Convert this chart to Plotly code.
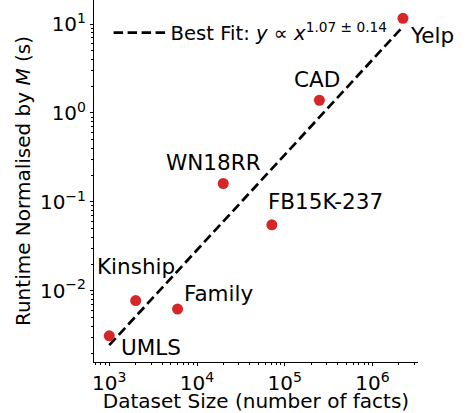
import numpy as np
import plotly.graph_objects as go

# ---- data ----
datasets = ["UMLS", "Kinship", "Family", "WN18RR", "FB15K-237", "CAD", "Yelp"]
dataset_size = [1000, 2000, 6000, 19900, 71200, 248000, 2220000]
runtime_norm = [0.00312, 0.00778, 0.00623, 0.161, 0.0552, 1.39, 11.6]

fit_slope = 1.07
fit_slope_err = 0.14
fit_log_intercept = -5.82

x_tick_vals = [1e3, 1e4, 1e5, 1e6]
x_tick_text = ["10<sup>3</sup>", "10<sup>4</sup>", "10<sup>5</sup>", "10<sup>6</sup>"]
y_tick_vals = [1e-2, 1e-1, 1e0, 1e1]
y_tick_text = ["10<sup>−2</sup>", "10<sup>−1</sup>", "10<sup>0</sup>", "10<sup>1</sup>"]

# label offsets (px) and anchors
label_pos = {
    "UMLS": (10, -12, "left"),
    "Kinship": (0, 34, "center"),
    "Family": (4, 16, "left"),
    "WN18RR": (-10, 21, "center"),
    "FB15K-237": (-6, 23, "left"),
    "CAD": (-2, 21, "center"),
    "Yelp": (5, -17, "left"),
}

FONT = "DejaVu Sans"
RED = "#d62728"

fit_x = np.array([min(dataset_size), max(dataset_size)], dtype=float)
fit_y = 10 ** (fit_log_intercept + fit_slope * np.log10(fit_x))

fig = go.Figure()
fig.add_trace(go.Scatter(
    x=fit_x, y=fit_y, mode="lines",
    line=dict(color="black", width=2.7, dash="9.5px,4.5px"),
    name=f"Best Fit: <i>y</i> ∝ <i>x</i><sup>{fit_slope:.2f} ± {fit_slope_err:.2f}</sup>",
    showlegend=True,
))
fig.add_trace(go.Scatter(
    x=dataset_size, y=runtime_norm, mode="markers",
    marker=dict(color=RED, size=11),
    showlegend=False,
))

for name, xv, yv in zip(datasets, dataset_size, runtime_norm):
    dx, dy, anchor = label_pos[name]
    fig.add_annotation(
        x=np.log10(xv), y=np.log10(yv), xref="x", yref="y",
        text=name, showarrow=False,
        xanchor=anchor, yanchor="middle",
        xshift=dx, yshift=dy,
        font=dict(family=FONT, size=21.5, color="black"),
    )

minor_x = [k * 10 ** e for e in range(2, 7) for k in range(2, 10)]
minor_y = [k * 10 ** e for e in range(-3, 2) for k in range(2, 10)]

fig.update_layout(
    width=468, height=413,
    margin=dict(l=94, r=50, t=0, b=51, autoexpand=False),
    paper_bgcolor="white", plot_bgcolor="white",
    font=dict(family=FONT, size=20, color="black"),
    showlegend=True,
    legend=dict(
        x=0.045, y=0.963, xanchor="left", yanchor="top",
        bgcolor="rgba(0,0,0,0)", borderwidth=0, itemwidth=52,
        font=dict(family=FONT, size=19.6, color="black"),
    ),
    xaxis=dict(
        type="log", range=[2.826, 6.518],
        showline=True, linecolor="black", linewidth=1,
        ticks="outside", ticklen=3, tickwidth=1, tickcolor="black",
        tickmode="array", tickvals=x_tick_vals, ticktext=x_tick_text,
        minor=dict(ticks="outside", ticklen=2, tickcolor="black", tickvals=minor_x, showgrid=False),
        showgrid=False, zeroline=False,
        tickfont=dict(family=FONT, size=20),
        title=dict(text="Dataset Size (number of facts)", font=dict(family=FONT, size=20), standoff=5),
    ),
    yaxis=dict(
        type="log", range=[-2.80, 1.27],
        showline=True, linecolor="black", linewidth=1,
        ticks="outside", ticklen=3, tickwidth=1, tickcolor="black",
        tickmode="array", tickvals=y_tick_vals, ticktext=y_tick_text,
        minor=dict(ticks="outside", ticklen=2, tickcolor="black", tickvals=minor_y, showgrid=False),
        showgrid=False, zeroline=False,
        tickfont=dict(family=FONT, size=20),
        title=dict(text="Runtime Normalised by <i>M</i> (s)", font=dict(family=FONT, size=20), standoff=3),
    ),
)

fig.write_html("out.html", config={"displayModeBar": False},
               post_script="document.body.style.margin='0px';")
